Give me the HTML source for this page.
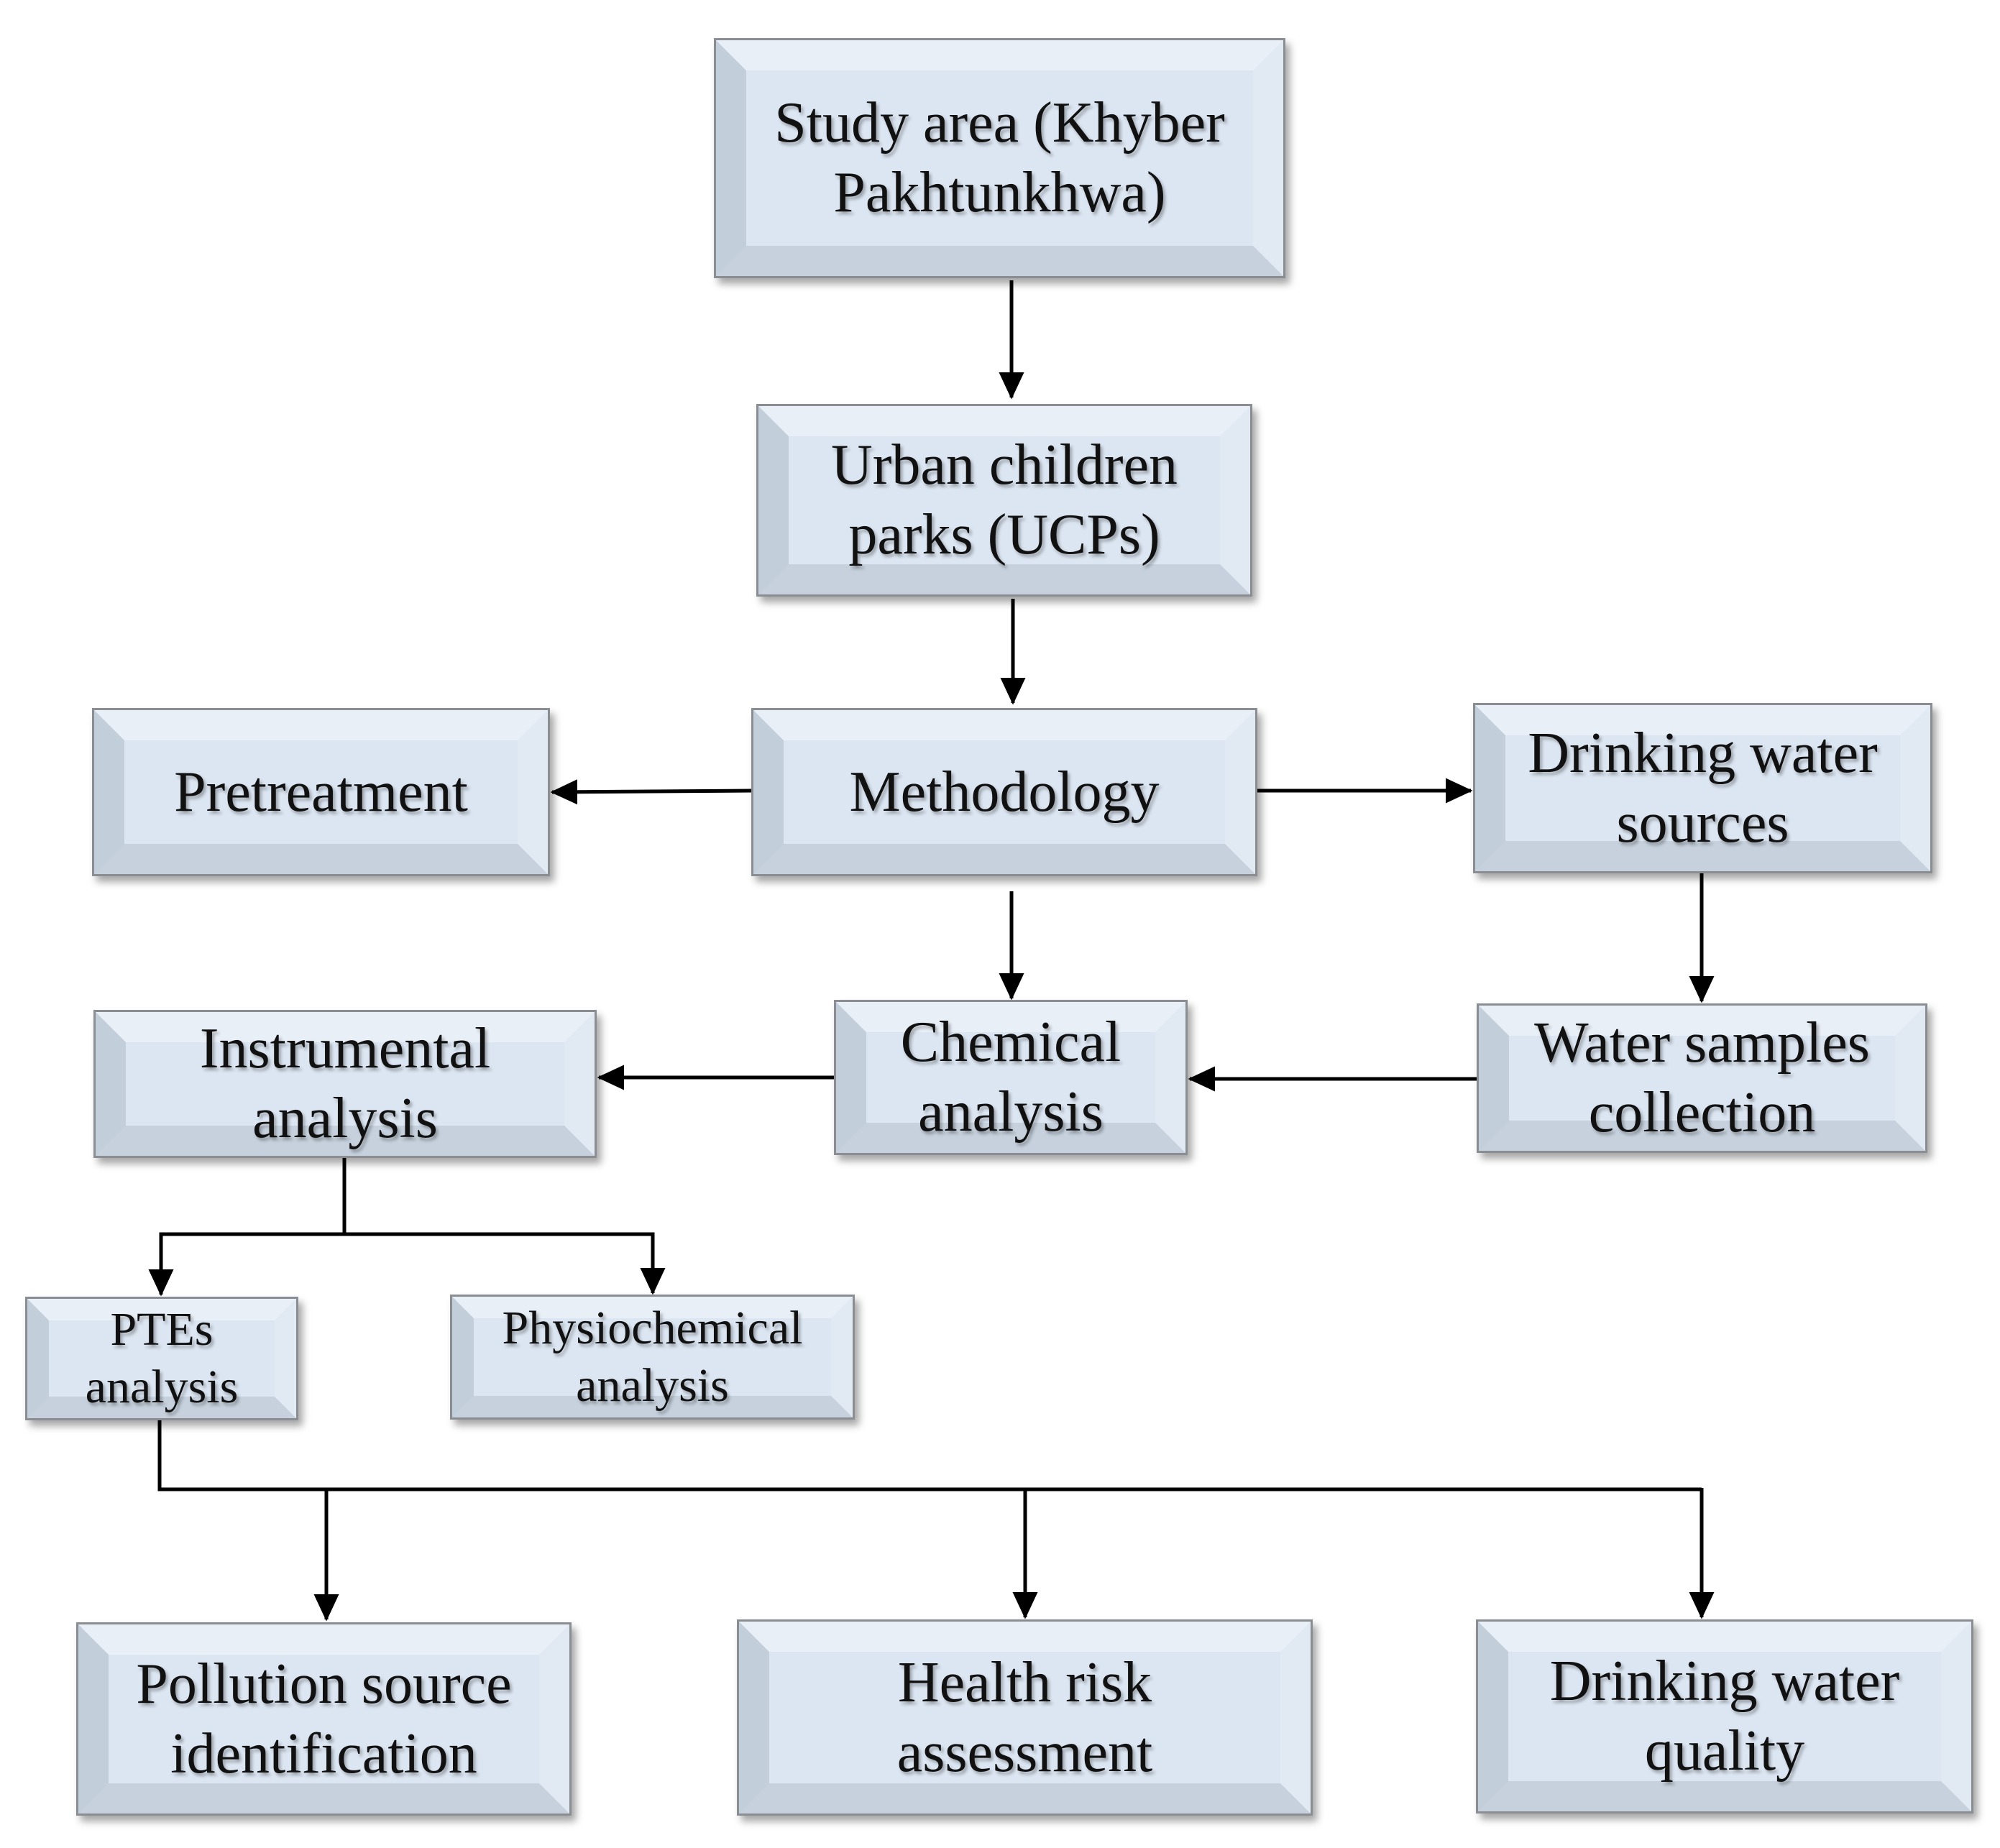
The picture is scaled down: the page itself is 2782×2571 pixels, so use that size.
<!DOCTYPE html>
<html><head><meta charset="utf-8"><style>
body{margin:0;width:2782px;height:2571px;background:#fff;position:relative;overflow:hidden;font-family:"Liberation Serif",serif}
.b{position:absolute;box-sizing:border-box;border:3px solid #8a8e93;box-shadow:6px 8px 10px rgba(0,0,0,.35);background:#dce6f2}
.b .v{position:absolute;inset:0;box-sizing:border-box;border-style:solid;border-width:42px;border-color:#e9eff7 #e1e9f3 #c6d1dd #c3cedb}
.b .t{position:absolute;inset:0;display:flex;align-items:center;justify-content:center;text-align:center;font-size:80px;line-height:97px;color:#111;text-shadow:3px 4px 4px rgba(0,0,0,.3)}
.s .v{border-width:30px}
.s .t{font-size:66px;line-height:80px}
svg{position:absolute;left:0;top:0}
</style></head><body>
<svg width="2782" height="2571">
<defs><marker id="a" markerWidth="8" markerHeight="8" refX="7" refY="4" orient="auto" markerUnits="strokeWidth"><path d="M0,0.5 L7.5,4 L0,7.5z" fill="#000"/></marker></defs>
<g stroke="#000" stroke-width="5" fill="none">
<line x1="1407" y1="390" x2="1407" y2="553" marker-end="url(#a)"/>
<line x1="1409" y1="833" x2="1409" y2="978" marker-end="url(#a)"/>
<line x1="1045" y1="1100" x2="768" y2="1102" marker-end="url(#a)"/>
<line x1="1749" y1="1100" x2="2046" y2="1100" marker-end="url(#a)"/>
<line x1="1407" y1="1240" x2="1407" y2="1389" marker-end="url(#a)"/>
<line x1="2367" y1="1215" x2="2367" y2="1393" marker-end="url(#a)"/>
<line x1="2054" y1="1501" x2="1655" y2="1501" marker-end="url(#a)"/>
<line x1="1160" y1="1499" x2="833" y2="1499" marker-end="url(#a)"/>
<polyline points="479,1611 479,1717"/>
<polyline points="224,1801 224,1717 908,1717 908,1799" marker-end="url(#a)"/>
<line x1="224" y1="1717" x2="224" y2="1801" marker-end="url(#a)"/>
<polyline points="222,1976 222,2072 2367,2072"/>
<line x1="454" y1="2072" x2="454" y2="2253" marker-end="url(#a)"/>
<line x1="1426" y1="2072" x2="1426" y2="2250" marker-end="url(#a)"/>
<line x1="2367" y1="2070" x2="2367" y2="2250" marker-end="url(#a)"/>
</g></svg>
<div class="b" style="left:993px;top:53px;width:795px;height:334px"><div class="v"></div><div class="t">Study area (Khyber<br>Pakhtunkhwa)</div></div>
<div class="b" style="left:1052px;top:562px;width:690px;height:268px"><div class="v"></div><div class="t">Urban children<br>parks (UCPs)</div></div>
<div class="b" style="left:128px;top:985px;width:637px;height:234px"><div class="v"></div><div class="t">Pretreatment</div></div>
<div class="b" style="left:1045px;top:985px;width:704px;height:234px"><div class="v"></div><div class="t">Methodology</div></div>
<div class="b" style="left:2049px;top:978px;width:639px;height:237px"><div class="v"></div><div class="t">Drinking water<br>sources</div></div>
<div class="b" style="left:1160px;top:1391px;width:492px;height:216px"><div class="v"></div><div class="t">Chemical<br>analysis</div></div>
<div class="b" style="left:2054px;top:1396px;width:627px;height:208px"><div class="v"></div><div class="t">Water samples<br>collection</div></div>
<div class="b" style="left:130px;top:1405px;width:700px;height:206px"><div class="v"></div><div class="t">Instrumental<br>analysis</div></div>
<div class="b s" style="left:35px;top:1804px;width:380px;height:172px"><div class="v"></div><div class="t">PTEs<br>analysis</div></div>
<div class="b s" style="left:626px;top:1801px;width:563px;height:174px"><div class="v"></div><div class="t">Physiochemical<br>analysis</div></div>
<div class="b" style="left:106px;top:2257px;width:689px;height:269px"><div class="v"></div><div class="t">Pollution source<br>identification</div></div>
<div class="b" style="left:1025px;top:2253px;width:801px;height:273px"><div class="v"></div><div class="t">Health risk<br>assessment</div></div>
<div class="b" style="left:2053px;top:2253px;width:692px;height:270px"><div class="v"></div><div class="t">Drinking water<br>quality</div></div>
</body></html>
